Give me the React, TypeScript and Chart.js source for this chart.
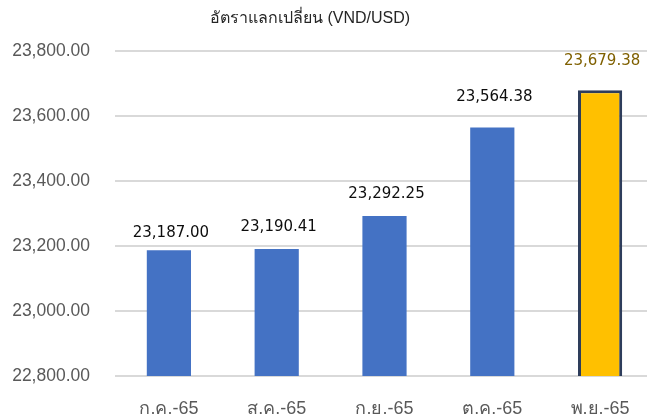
import React, { useEffect, useRef } from "react";
import { Chart, registerables } from "chart.js";

Chart.register(...registerables);

const TITLE = "อัตราแลกเปลี่ยน (VND/USD)";
const categories = ["ก.ค.-65", "ส.ค.-65", "ก.ย.-65", "ต.ค.-65", "พ.ย.-65"];
const rates = [23187.0, 23190.41, 23292.25, 23564.38, 23679.38];
const barColors = ["#4472C4", "#4472C4", "#4472C4", "#4472C4", "#FFC000"];
const borderWidths = [0, 0, 0, 0, 3];
const labelColors = ["#0D0D0D", "#0D0D0D", "#0D0D0D", "#0D0D0D", "#7F6000"];
const labelOffsets = [17, 22, 22, 30, 29];
const yMin = 22800;
const yMax = 23800;
const yStep = 200;

const fmt = (v: number) =>
  v.toLocaleString("en-US", { minimumFractionDigits: 2, maximumFractionDigits: 2 });

const titlePlugin = {
  id: "customTitle",
  afterDraw(chart: any) {
    const ctx = chart.ctx;
    ctx.save();
    ctx.font = "16px 'Liberation Sans', Arial, sans-serif";
    ctx.fillStyle = "#262626";
    ctx.textAlign = "center";
    ctx.textBaseline = "middle";
    ctx.fillText(TITLE, 310, 19);
    ctx.restore();
  },
};

const labelPlugin = {
  id: "valueLabels",
  afterDatasetsDraw(chart: any) {
    const ctx = chart.ctx;
    const meta = chart.getDatasetMeta(0);
    ctx.save();
    ctx.font = "15px 'DejaVu Sans', sans-serif";
    ctx.textAlign = "center";
    ctx.textBaseline = "middle";
    meta.data.forEach((bar: any, i: number) => {
      ctx.fillStyle = labelColors[i];
      ctx.fillText(fmt(rates[i]), bar.x + 2, bar.y - labelOffsets[i]);
    });
    ctx.restore();
  },
};

export default function App() {
  const ref = useRef<HTMLCanvasElement | null>(null);
  useEffect(() => {
    if (!ref.current) return;
    const chart = new Chart(ref.current, {
      type: "bar",
      data: {
        labels: categories,
        datasets: [
          {
            data: rates,
            backgroundColor: barColors,
            borderColor: "#2E3D5B",
            borderWidth: borderWidths,
            borderSkipped: false,
            barPercentage: 0.41,
            categoryPercentage: 1,
          },
        ],
      },
      options: {
        animation: false,
        responsive: false,
        devicePixelRatio: 1,
        layout: { padding: { top: 51, left: 0, right: 0, bottom: 0 } },
        plugins: {
          legend: { display: false },
          title: { display: false },
          tooltip: { enabled: false },
        },
        scales: {
          x: {
            grid: { display: false, drawTicks: false },
            border: { display: false },
            ticks: {
              padding: 22,
              color: "#595959",
              font: { family: "'Liberation Sans', Arial, sans-serif", size: 18 },
            },
            afterFit: (s: any) => {
              s.height = 43;
            },
          },
          y: {
            min: yMin,
            max: yMax,
            grid: { color: "#D9D9D9", lineWidth: 2, drawTicks: false },
            border: { display: false },
            ticks: {
              stepSize: yStep,
              padding: 25,
              color: "#595959",
              font: { family: "'Liberation Sans', Arial, sans-serif", size: 17.5 },
              callback: (v: any) => fmt(Number(v)),
            },
            afterFit: (s: any) => {
              s.width = 115;
            },
          },
        },
      },
      plugins: [titlePlugin, labelPlugin],
    });
    return () => chart.destroy();
  }, []);
  return (
    <div
      style={{
        position: "fixed",
        left: 0,
        top: 0,
        width: 647,
        height: 419,
        overflow: "hidden",
        background: "#fff",
      }}
    >
      <canvas ref={ref} width={654} height={419} style={{ display: "block" }} />
    </div>
  );
}
